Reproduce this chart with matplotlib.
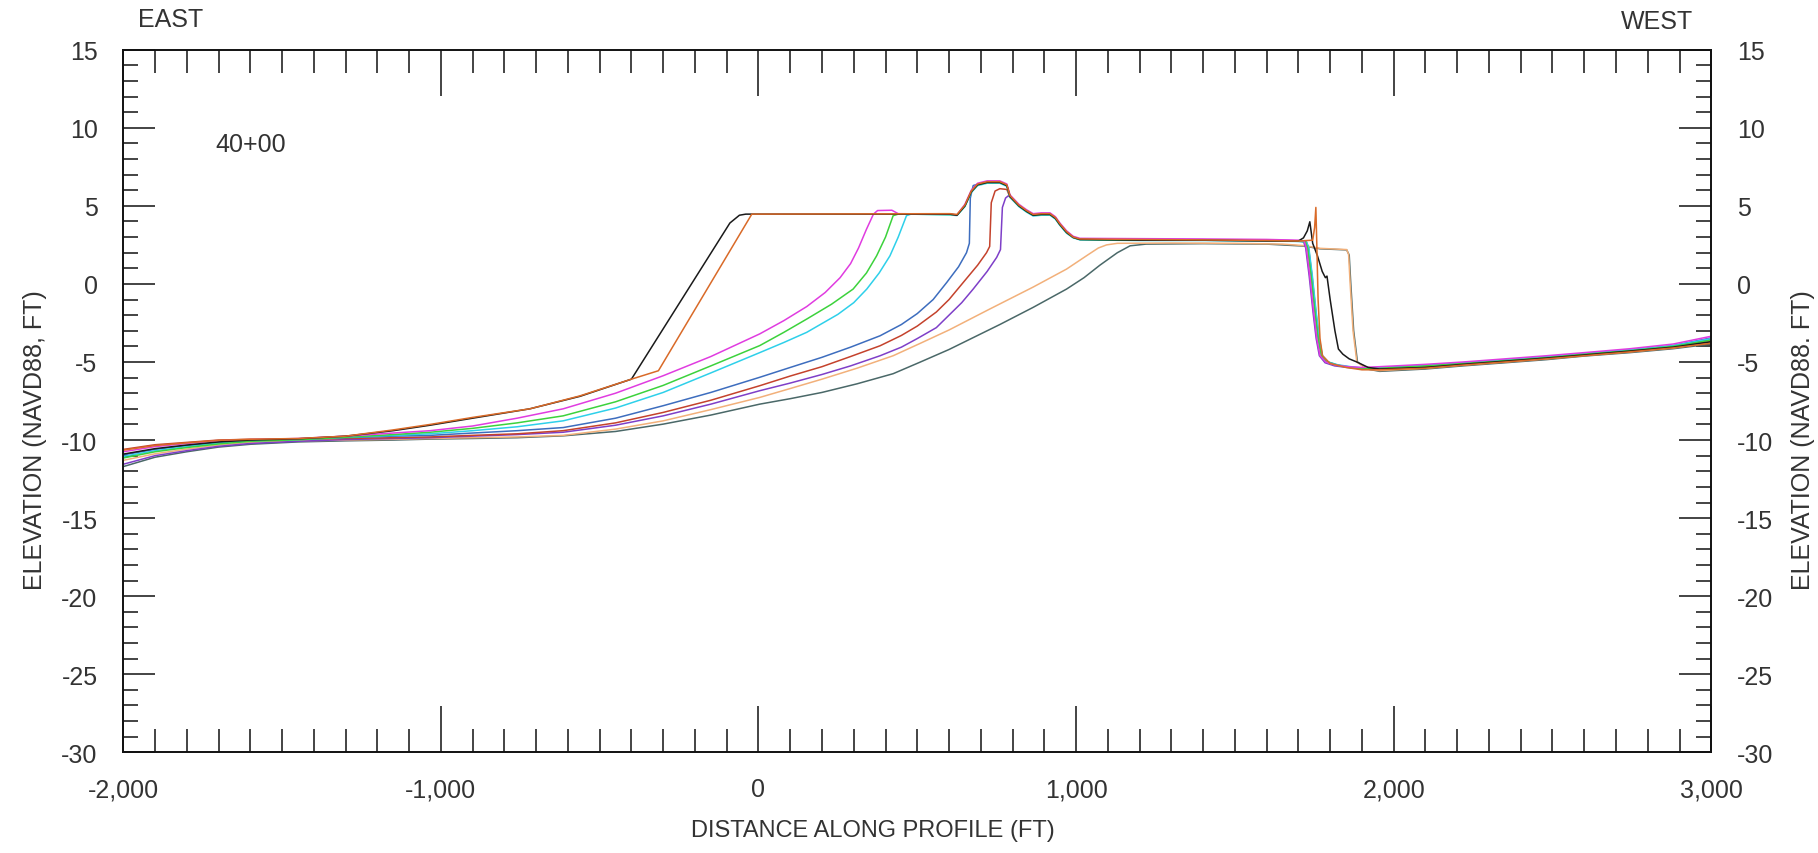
import matplotlib
matplotlib.use("Agg")
import matplotlib.pyplot as plt
from matplotlib.ticker import MultipleLocator, FuncFormatter

plt.rcParams['font.family'] = ['Liberation Sans', 'DejaVu Sans']

# ---------------- data (distance ft, elevation ft) ----------------
BLACK = [(-2000,-10.9),(-1900,-10.55),(-1800,-10.32),(-1700,-10.12),(-1600,-10.0),(-1450,-9.92),(-1300,-9.75),(-1150,-9.4),
         (-1034,-9.05),(-900,-8.6),(-720,-8.0),(-562,-7.2),(-400,-6.1),(-90,3.9),(-60,4.4),(-40,4.47),(603,4.47),(625,4.4),
         (650,5.0),(670,5.9),(690,6.35),(720,6.5),(760,6.5),(782,6.3),(792,5.6),(820,5.0),(844,4.65),(865,4.4),(890,4.45),
         (918,4.45),(935,4.2),(949,3.8),(970,3.3),(991,2.98),(1012,2.85),(1200,2.8),(1400,2.8),(1600,2.75),(1700,2.75),
         (1716,2.95),(1728,3.4),(1736,3.98),(1745,2.6),(1760,1.8),(1775,0.8),(1785,0.4),(1790,0.5),(1800,-1.0),
         (1815,-3.0),(1826,-4.17),(1840,-4.5),(1860,-4.8),(1884,-5.0),(1920,-5.35),(1956,-5.45),(2100,-5.35),
         (2218,-5.15),(2350,-4.95),(2481,-4.75),(2600,-4.55),(2744,-4.3),(2880,-4.05),(3000,-3.7)]

ORANGE = [(-2000,-10.65),(-1900,-10.35),(-1800,-10.18),(-1700,-10.02),(-1600,-9.95),(-1450,-9.9),(-1300,-9.75),
          (-1150,-9.35),(-1034,-9.0),(-900,-8.55),(-720,-8.0),(-562,-7.17),(-400,-6.1),(-315,-5.56),(-21,4.47),(603,4.5),
          (625,4.45),(650,5.05),(670,5.95),(690,6.4),(720,6.55),(760,6.55),(782,6.35),(792,5.65),(820,5.05),(844,4.7),
          (865,4.45),(890,4.5),(918,4.5),(935,4.25),(949,3.85),(970,3.35),(991,3.0),(1012,2.88),(1200,2.85),(1400,2.82),
          (1600,2.78),(1700,2.75),(1745,2.8),(1751,3.6),(1755,4.9),(1758,2.5),(1762,-1.0),(1768,-3.5),(1776,-4.6),
          (1800,-5.1),(1850,-5.35),(1900,-5.5),(1956,-5.5),(2100,-5.4),(2218,-5.2),(2350,-5.0),(2481,-4.8),(2600,-4.6),
          (2744,-4.35),(2880,-4.1),(3000,-3.8)]

MAGENTA = [(-2000,-10.75),(-1900,-10.42),(-1800,-10.22),(-1700,-10.05),(-1600,-9.97),(-1450,-9.9),(-1300,-9.75),
           (-1150,-9.55),(-1034,-9.4),(-900,-9.1),(-760,-8.6),(-615,-8.0),(-450,-7.0),(-300,-5.88),(-150,-4.65),(4,-3.2),
           (80,-2.35),(152,-1.45),(210,-0.55),(257,0.4),(290,1.3),(315,2.3),(340,3.5),(362,4.47),(375,4.7),(420,4.72),
           (440,4.5),(603,4.47),(625,4.42),(650,5.1),(670,6.0),(690,6.45),(720,6.6),(760,6.6),(782,6.4),(792,5.7),
           (820,5.1),(844,4.75),(865,4.5),(890,4.55),(918,4.55),(935,4.3),(949,3.9),(970,3.4),(991,3.05),(1012,2.92),
           (1200,2.9),(1400,2.88),(1600,2.85),(1700,2.8),(1718,2.75),(1725,2.3),(1736,0.5),(1748,-1.8),(1758,-3.5),
           (1768,-4.6),(1786,-5.0),(1816,-5.2),(1856,-5.3),(1900,-5.35),(1956,-5.3),(2100,-5.15),(2218,-5.0),(2350,-4.8),
           (2481,-4.6),(2600,-4.4),(2744,-4.15),(2880,-3.85),(3000,-3.35)]

GREEN = [(-2000,-11.15),(-1900,-10.75),(-1800,-10.48),(-1700,-10.25),(-1600,-10.08),(-1450,-9.98),(-1300,-9.82),
         (-1150,-9.65),(-1034,-9.5),(-900,-9.25),(-760,-8.9),(-615,-8.45),(-450,-7.55),(-300,-6.5),(-150,-5.25),(4,-3.95),
         (80,-3.1),(152,-2.25),(230,-1.3),(298,-0.33),(340,0.7),(372,1.8),(400,3.0),(424,4.37),(440,4.47),(603,4.45),
         (625,4.4),(650,5.0),(670,5.9),(690,6.35),(720,6.5),(760,6.5),(782,6.3),(792,5.6),(820,5.0),(844,4.65),
         (865,4.4),(890,4.45),(918,4.45),(935,4.2),(949,3.8),(970,3.3),(991,2.98),(1012,2.85),(1200,2.8),(1400,2.8),
         (1600,2.78),(1700,2.75),(1722,2.7),(1729,2.3),(1740,0.5),(1752,-1.8),(1762,-3.5),(1772,-4.6),(1790,-5.0),
         (1820,-5.2),(1860,-5.35),(1900,-5.42),(1956,-5.4),(2100,-5.25),(2218,-5.1),(2350,-4.92),(2481,-4.72),
         (2600,-4.5),(2744,-4.28),(2880,-4.0),(3000,-3.6)]

CYAN = [(-2000,-11.05),(-1900,-10.68),(-1800,-10.42),(-1700,-10.2),(-1600,-10.05),(-1450,-9.97),(-1300,-9.82),
        (-1150,-9.7),(-1034,-9.6),(-900,-9.4),(-760,-9.15),(-615,-8.77),(-450,-7.95),(-300,-6.95),(-150,-5.7),(4,-4.4),
        (80,-3.75),(152,-3.1),(250,-1.95),(300,-1.2),(341,-0.33),(380,0.7),(414,1.8),(440,3.0),(466,4.37),(480,4.47),
        (603,4.42),(625,4.38),(650,4.95),(670,5.85),(690,6.3),(720,6.45),(760,6.45),(782,6.25),(792,5.55),(820,4.95),
        (844,4.6),(865,4.35),(890,4.4),(918,4.4),(935,4.15),(949,3.75),(970,3.25),(991,2.95),(1012,2.82),(1200,2.78),
        (1400,2.78),(1600,2.75),(1700,2.72),(1726,2.68),(1733,2.3),(1744,0.5),(1756,-1.8),(1766,-3.5),(1776,-4.6),
        (1794,-5.0),(1824,-5.18),(1864,-5.3),(1900,-5.38),(1956,-5.36),(2100,-5.2),(2218,-5.05),(2350,-4.87),
        (2481,-4.66),(2600,-4.45),(2744,-4.22),(2880,-3.95),(3000,-3.5)]

BLUE = [(-2000,-10.95),(-1900,-10.6),(-1800,-10.35),(-1700,-10.15),(-1600,-10.02),(-1450,-9.95),(-1300,-9.85),
        (-1150,-9.75),(-1034,-9.7),(-900,-9.55),(-760,-9.4),(-615,-9.2),(-450,-8.6),(-300,-7.8),(-150,-6.95),(4,-5.98),
        (100,-5.35),(200,-4.7),(290,-4.05),(383,-3.32),(450,-2.6),(500,-1.9),(550,-1.0),(593,0.1),(630,1.1),(655,2.0),
        (664,2.6),(667,5.5),(676,6.3),(700,6.45),(720,6.5),(760,6.5),(782,6.3),(792,5.6),(820,5.0),(844,4.65),
        (865,4.4),(890,4.45),(918,4.45),(935,4.2),(949,3.8),(970,3.3),(991,2.98),(1012,2.85),(1200,2.82),(1400,2.8),
        (1600,2.77),(1700,2.73),(1723,2.7),(1730,2.3),(1741,0.5),(1753,-1.8),(1763,-3.5),(1773,-4.6),(1791,-5.0),
        (1821,-5.2),(1861,-5.32),(1900,-5.4),(1956,-5.38),(2100,-5.22),(2218,-5.08),(2350,-4.9),(2481,-4.7),
        (2600,-4.48),(2744,-4.25),(2880,-3.98),(3000,-3.55)]

RED = [(-2000,-10.6),(-1900,-10.3),(-1800,-10.15),(-1700,-10.0),(-1600,-9.95),(-1450,-9.95),(-1300,-9.9),(-1150,-9.85),
       (-1034,-9.8),(-900,-9.7),(-760,-9.6),(-615,-9.4),(-450,-8.9),(-300,-8.23),(-150,-7.45),(4,-6.52),(100,-5.9),
       (200,-5.3),(290,-4.65),(383,-3.96),(450,-3.3),(500,-2.7),(560,-1.8),(600,-1.0),(645,0.1),(690,1.2),(718,2.0),
       (728,2.4),(733,5.2),(745,5.95),(760,6.1),(782,6.05),(792,5.55),(820,5.0),(844,4.65),(865,4.4),(890,4.45),
       (918,4.45),(935,4.2),(949,3.8),(970,3.3),(991,2.98),(1012,2.85),(1200,2.85),(1400,2.83),(1600,2.8),(1700,2.76),
       (1725,2.7),(1732,2.3),(1743,0.5),(1755,-1.8),(1765,-3.5),(1775,-4.6),(1793,-5.0),(1823,-5.2),(1863,-5.35),
       (1900,-5.45),(1956,-5.45),(2100,-5.3),(2218,-5.12),(2350,-4.95),(2481,-4.75),(2600,-4.55),(2744,-4.32),
       (2880,-4.05),(3000,-3.7)]

PURPLE = [(-2000,-11.55),(-1900,-11.0),(-1800,-10.68),(-1700,-10.4),(-1600,-10.22),(-1450,-10.08),(-1300,-9.97),
          (-1150,-9.9),(-1034,-9.85),(-900,-9.75),(-760,-9.65),(-615,-9.5),(-450,-9.05),(-300,-8.45),(-150,-7.7),
          (4,-6.84),(100,-6.35),(200,-5.8),(290,-5.25),(383,-4.6),(450,-4.05),(500,-3.5),(560,-2.8),(600,-2.0),
          (640,-1.2),(676,-0.33),(720,0.8),(750,1.7),(762,2.2),(768,4.9),(778,5.5),(787,5.65),(800,5.4),(820,5.0),
          (844,4.7),(865,4.45),(890,4.5),(918,4.5),(935,4.25),(949,3.85),(970,3.35),(991,3.0),(1012,2.88),(1200,2.85),
          (1400,2.83),(1600,2.8),(1700,2.76),(1716,2.72),(1723,2.3),(1734,0.5),(1746,-1.8),(1756,-3.5),(1766,-4.6),
          (1784,-5.05),(1814,-5.25),(1854,-5.35),(1900,-5.4),(1956,-5.38),(2100,-5.22),(2218,-5.05),(2350,-4.88),
          (2481,-4.68),(2600,-4.48),(2744,-4.24),(2880,-3.95),(3000,-3.45)]

PEACH = [(-2000,-11.3),(-1900,-10.88),(-1800,-10.58),(-1700,-10.32),(-1600,-10.15),(-1450,-10.05),(-1300,-10.0),
         (-1150,-9.95),(-1034,-9.9),(-900,-9.85),(-760,-9.8),(-615,-9.7),(-450,-9.3),(-300,-8.77),(-150,-8.05),
         (4,-7.27),(100,-6.7),(200,-6.1),(310,-5.4),(424,-4.6),(510,-3.8),(600,-2.95),(729,-1.6),(865,-0.2),
         (970,0.95),(1040,1.9),(1070,2.3),(1096,2.5),(1130,2.6),(1300,2.62),(1500,2.6),(1650,2.55),(1720,2.45),
         (1768,2.28),(1852,2.2),(1858,1.9),(1863,0.0),(1872,-3.0),(1884,-5.0),(1915,-5.45),(1956,-5.55),(2100,-5.4),
         (2218,-5.2),(2350,-5.0),(2481,-4.8),(2600,-4.58),(2744,-4.35),(2880,-4.1),(3000,-3.75)]

SLATE = [(-2000,-11.7),(-1900,-11.1),(-1800,-10.75),(-1700,-10.45),(-1600,-10.27),(-1450,-10.12),(-1300,-10.05),
         (-1150,-10.0),(-1034,-9.94),(-900,-9.9),(-760,-9.85),(-615,-9.73),(-450,-9.45),(-300,-8.98),(-150,-8.4),
         (4,-7.7),(100,-7.35),(200,-6.95),(310,-6.4),(424,-5.75),(510,-5.0),(600,-4.2),(680,-3.4),(760,-2.6),
         (865,-1.5),(970,-0.33),(1025,0.4),(1075,1.2),(1130,2.0),(1170,2.44),(1220,2.55),(1400,2.58),(1600,2.55),
         (1720,2.42),(1768,2.25),(1852,2.18),(1860,1.85),(1865,0.0),(1874,-3.0),(1886,-5.0),(1917,-5.45),(1956,-5.6),
         (2100,-5.45),(2218,-5.25),(2350,-5.05),(2481,-4.85),(2600,-4.62),(2744,-4.4),(2880,-4.15),(3000,-3.85)]

SERIES = [("slate", SLATE, "#4A6868"), ("peach", PEACH, "#F2B07A"), ("purple", PURPLE, "#7E3FC8"),
          ("red", RED, "#C4422C"), ("blue", BLUE, "#3D6DBE"), ("cyan", CYAN, "#2ED0EA"),
          ("green", GREEN, "#3CD23C"), ("magenta", MAGENTA, "#E03CE0"), ("black", BLACK, "#1A1A1A"),
          ("orange", ORANGE, "#D96A28")]

X_TICKS = [-2000, -1000, 0, 1000, 2000, 3000]
Y_TICKS = [-30, -25, -20, -15, -10, -5, 0, 5, 10, 15]

TEXT_COLOR = "#333333"
FS = 18

fig = plt.figure(figsize=(18.18, 8.54), dpi=100)
ax = fig.add_axes([0.0678, 0.1179, 0.8735, 0.8227])

for name, pts, col in SERIES:
    xs = [p[0] for p in pts]
    ys = [p[1] for p in pts]
    ax.plot(xs, ys, color=col, lw=1.1, solid_joinstyle='round')

ax.set_xlim(-2000, 3000)
ax.set_ylim(-30, 15)
ax.set_xticks(X_TICKS)
ax.set_yticks(Y_TICKS)
ax.xaxis.set_minor_locator(MultipleLocator(100))
ax.yaxis.set_minor_locator(MultipleLocator(1))
ax.xaxis.set_major_formatter(FuncFormatter(lambda v, p: f"{int(v):,}"))
ax.yaxis.set_major_formatter(FuncFormatter(lambda v, p: f"{int(v)}"))

for s in ax.spines.values():
    s.set_linewidth(1.4)
    s.set_color("#111111")

ax.tick_params(axis='both', which='both', direction='in', top=True, right=True,
               labelleft=True, labelright=True, labelbottom=True, labeltop=False,
               width=1.1, color="#111111", labelcolor=TEXT_COLOR, labelsize=FS)
ax.tick_params(axis='x', which='major', length=33, pad=18)
ax.tick_params(axis='x', which='minor', length=16.8)
ax.tick_params(axis='y', which='major', length=22.8, pad=18.5)
ax.tick_params(axis='y', which='minor', length=10.8)

ax.text(-1711, 8.96, "40+00", ha='left', va='center', fontsize=FS, color=TEXT_COLOR)

fig.text(0.0759, 0.977, "EAST", ha='left', va='center', fontsize=FS, color=TEXT_COLOR)
fig.text(0.9312, 0.974, "WEST", ha='right', va='center', fontsize=FS, color=TEXT_COLOR)
fig.text(0.48, 0.027, "DISTANCE ALONG PROFILE (FT)", ha='center', va='center', fontsize=17, color=TEXT_COLOR)
fig.text(0.019, 0.485, "ELEVATION (NAVD88, FT)", ha='center', va='center', rotation=90, fontsize=FS, color=TEXT_COLOR)
fig.text(0.992, 0.485, "ELEVATION (NAVD88. FT)", ha='center', va='center', rotation=90, fontsize=FS, color=TEXT_COLOR)

fig.savefig("out.png", dpi=100, facecolor="white")
